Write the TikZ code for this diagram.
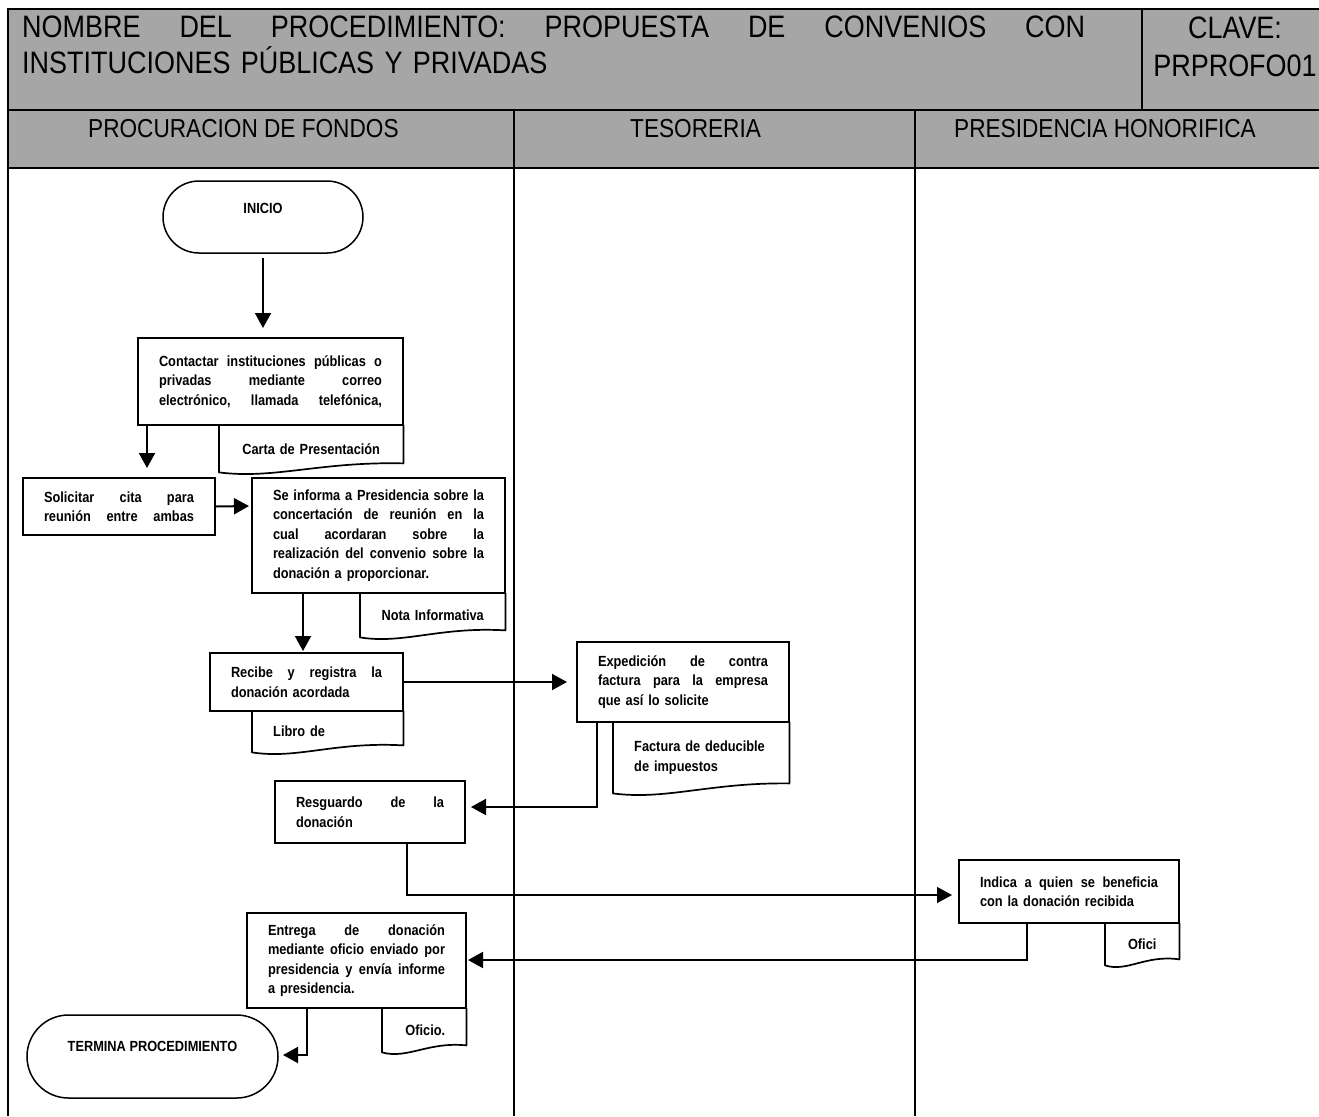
\documentclass[tikz,border=0pt]{standalone}
\usepackage{fontspec}
\setmainfont{Liberation Sans}
\newfontfamily\narrowfont[FakeStretch=0.87]{Liberation Sans}
\usetikzlibrary{arrows.meta,calc}

\definecolor{hdrgray}{RGB}{166,166,166}

\newcommand\titlefont{\narrowfont\fontsize{31}{36.5}\selectfont}
\newcommand\lanefont{\narrowfont\fontsize{26}{30}\selectfont}
\newcommand\bodyfont{\narrowfont\bfseries\fontsize{14.7}{19.5}\selectfont}
% a fully justified line inside a box of fixed text width:
% interword spaces get infinite stretch so the words fill the line
\newcommand\jl[1]{\leavevmode\hbox to \hsize{\frenchspacing\spaceskip=0.25em plus 1fil\relax #1}}

% document symbol: top edge, right edge ending higher, wavy bottom edge
\newcommand\docoutline[2][8]{%
  \draw[docline] (#2.north west) -- (#2.north east) -- ($(#2.south east)+(0,#1pt)$)
    .. controls ($(#2.south west)!0.55!(#2.south east)+(0,11pt)$)
       and ($(#2.south west)!0.3!(#2.south east)+(0,-7pt)$) .. (#2.south west) -- cycle;}

\tikzset{
  frame/.style={line width=2pt},
  proc/.style={draw, line width=1.7pt, fill=white, font=\bodyfont,
    inner xsep=21pt, inner ysep=2pt, align=left},
  docbox/.style={font=\bodyfont, inner xsep=21pt, inner ysep=0pt, anchor=north west},
  docline/.style={line width=1.7pt, line join=round},
  term/.style={draw, line width=1.5pt, font=\bodyfont, inner sep=0pt},
  flow/.style={line width=2pt, line join=miter, -{Triangle[length=15pt,width=16pt]}},
}

\begin{document}
\begin{tikzpicture}[x=1pt, y=-1pt]
\useasboundingbox (0,0) rectangle (1319,1116);

% header band and swimlane frame
\fill[hdrgray] (8,9) rectangle (1319,168);
\draw[frame] (1319,9) -- (8,9) -- (8,1116);
\draw[frame] (8,110) -- (1319,110);
\draw[frame] (8,168) -- (1319,168);
\draw[frame] (1142,9) -- (1142,110);
\draw[frame] (514,110) -- (514,1116);
\draw[frame] (915,110) -- (915,1116);

% header texts
\node[anchor=base west, font=\titlefont, inner sep=0pt, text width=1063pt, align=left] (title) at (22,37.5)
  {\jl{NOMBRE DEL PROCEDIMIENTO: PROPUESTA DE CONVENIOS CON}\\INSTITUCIONES PÚBLICAS Y PRIVADAS};
\node[anchor=base, font=\narrowfont\fontsize{31}{38}\selectfont, inner sep=0pt, text width=170pt, align=center] (clave) at (1235,38)
  {CLAVE:\\PRPROFO01};
\node[anchor=base west, font=\lanefont, inner sep=0pt] (lane1) at (88,137) {PROCURACION DE FONDOS};
\node[anchor=base west, font=\lanefont, inner sep=0pt] (lane2) at (630,137) {TESORERIA};
\node[anchor=base west, font=\lanefont, inner sep=0pt] (lane3) at (954,137) {PRESIDENCIA HONORIFICA};

% terminals
\node[term, minimum width=200pt, minimum height=72pt, rounded corners=36pt,
      text height=10pt, text depth=18pt] (ini) at (263,217) {INICIO};
\node[term, minimum width=251pt, minimum height=83pt, rounded corners=41.5pt,
      text height=10pt, text depth=21pt] (termina) at (152.5,1056.5) {TERMINA PROCEDIMIENTO};

% process steps
\node[proc, text width=223pt, minimum width=265pt, minimum height=87pt] (contact) at (270.5,381.5)
  {\jl{Contactar instituciones públicas o}\\\jl{privadas mediante correo}\\\jl{electrónico, llamada telefónica,}};
\node[proc, text width=150pt, minimum width=192pt, minimum height=57pt] (solic) at (119,506.5)
  {\jl{Solicitar cita para}\\\jl{reunión entre ambas}};
\node[proc, text width=211pt, minimum width=253pt, minimum height=115pt] (seinf) at (378.5,535.5)
  {\jl{Se informa a Presidencia sobre la}\\\jl{concertación de reunión en la}\\\jl{cual acordaran sobre la}\\\jl{realización del convenio sobre la}\\donación a proporcionar.};
\node[proc, text width=151pt, minimum width=193pt, minimum height=58pt] (recibe) at (306.5,682)
  {\jl{Recibe y registra la}\\donación acordada};
\node[proc, text width=170pt, minimum width=212pt, minimum height=80pt] (exped) at (683,682)
  {\jl{Expedición de contra}\\\jl{factura para la empresa}\\que así lo solicite};
\node[proc, text width=148pt, minimum width=190pt, minimum height=62pt] (resg) at (370,812)
  {\jl{Resguardo de la}\\donación};
\node[proc, text width=178pt, minimum width=220pt, minimum height=63pt] (indica) at (1069,891.5)
  {\jl{Indica a quien se beneficia}\\con la donación recibida};
\node[proc, text width=177pt, minimum width=219pt, minimum height=95pt] (entrega) at (356.5,960.5)
  {\jl{Entrega de donación}\\\jl{mediante oficio enviado por}\\\jl{presidencia y envía informe}\\a presidencia.};

% documents
\node[docbox, text width=142pt, minimum width=184pt, minimum height=47pt, align=center] (carta) at (219,425) {Carta de Presentación};
\docoutline[9]{carta}
\node[docbox, text width=103pt, minimum width=145pt, minimum height=44pt, align=center] (nota) at (360,593) {Nota Informativa};
\docoutline[7]{nota}
\node[docbox, text width=109pt, minimum width=151pt, minimum height=41pt, align=left] (libro) at (252,711) {Libro de};
\docoutline[7]{libro}
\node[docbox, text width=134pt, minimum width=176pt, minimum height=71pt, align=left] (factura) at (613,722) {Factura de deducible\\de impuestos};
\docoutline[10]{factura}
\node[docbox, text width=32pt, minimum width=74pt, minimum height=42pt, align=center] (ofici) at (1105,923) {Ofici};
\docoutline[6]{ofici}
\node[docbox, text width=42pt, minimum width=84pt, minimum height=44pt, align=right] (oficio) at (382,1008) {Oficio.};
\docoutline[7]{oficio}

% arrow ends and bends
\coordinate (t1) at (263,328);
\coordinate (t2) at (147,468);
\coordinate (t3) at (249,506);
\coordinate (t4) at (303,651);
\coordinate (t5) at (567,682);
\coordinate (b6) at (597,807);
\coordinate (t6) at (471,807);
\coordinate (b7) at (407,895);
\coordinate (t7) at (952,895);
\coordinate (b8) at (1027,960);
\coordinate (t8) at (468,960);
\coordinate (b9) at (307,1055);
\coordinate (t9) at (283,1055);

% connectors
\draw[flow] ([yshift=-4pt]ini.south) -- (t1);
\draw[flow] (contact.south west -| t2) -- (t2);
\draw[flow] (solic.east) -- (t3);
\draw[flow] (seinf.south -| t4) -- (t4);
\draw[flow] (recibe.east) -- (t5);
\draw[flow] (exped.south -| b6) -- (b6) -- (t6);
\draw[flow, line width=1.4pt] (resg.south -| b7) -- (b7) -- (t7);
\draw[flow] (indica.south -| b8) -- (b8) -- (t8);
\draw[flow] (entrega.south -| b9) -- (b9) -- (t9);
\end{tikzpicture}
\end{document}
